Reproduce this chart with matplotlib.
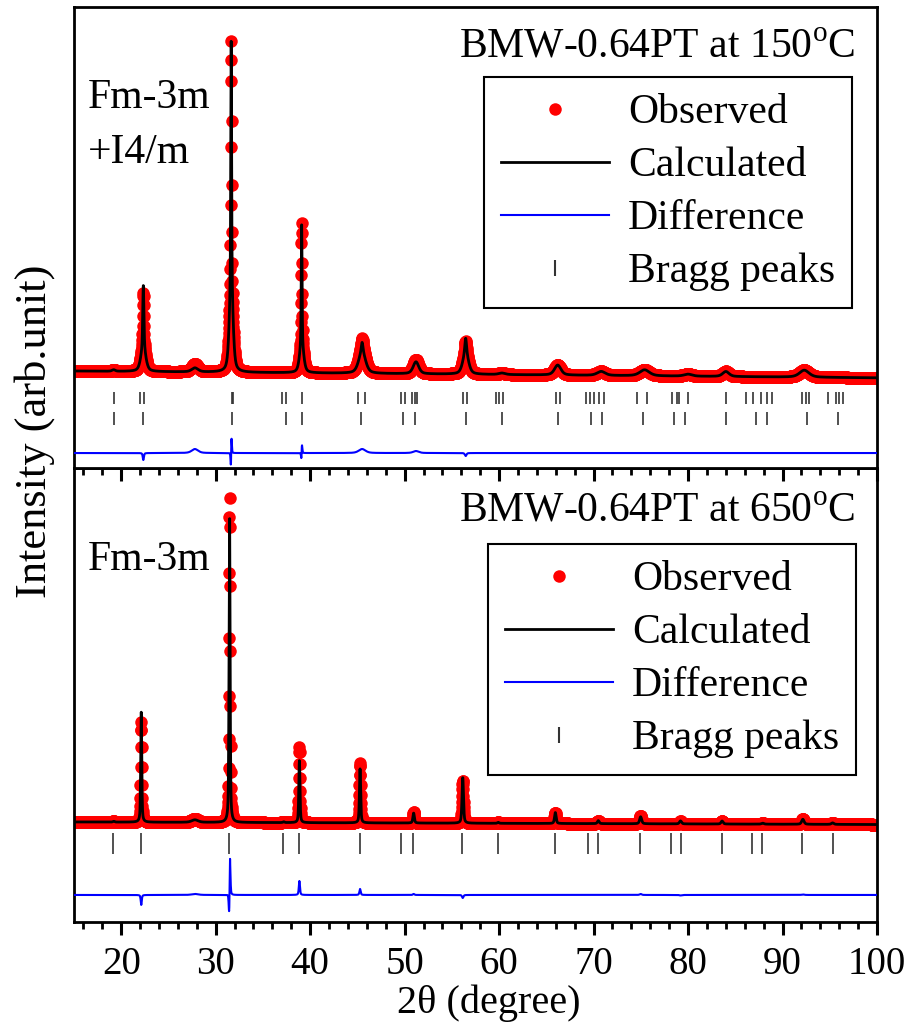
import numpy as np
import matplotlib
matplotlib.use("Agg")
import matplotlib.pyplot as plt
from matplotlib.lines import Line2D

plt.rcParams['font.family'] = ['Liberation Serif', 'DejaVu Serif']
plt.rcParams['mathtext.fontset'] = 'custom'
plt.rcParams['mathtext.rm'] = 'Liberation Serif'

# ---- 150 C pattern (Fm-3m + I4/m) : peak table ----
top_pos = [19.2, 22.34, 22.34, 27.8, 31.64, 31.64, 39.1, 39.1, 45.5, 45.5,
           51.2, 56.46, 56.46, 60.3, 66.2, 70.8, 75.4, 80.0, 84.0, 92.3]
top_calc = [1.5, 62, 24, 4, 245, 86, 120, 28, 22, 9,
            12, 22, 14, 1.5, 10, 4, 6, 2, 5, 7]
top_obs = [1.5, 55, 24, 8, 247, 86, 122, 28, 26, 9,
           14, 22, 11, 1.5, 10, 4, 6, 2, 5, 7]
top_fwhm = [0.4, 0.14, 0.6, 0.8, 0.1, 0.45, 0.1, 0.5, 0.85, 0.2,
            0.7, 0.7, 0.2, 0.8, 0.8, 1.0, 1.2, 1.0, 0.8, 1.2]
top_shift = [0, 0, 0, 0, 0.004, 0, 0.004, 0, 0, 0,
             0, 0, 0, 0, 0, 0, 0, 0, 0, 0]
top_bg = [0.0, -0.08]          # background: offset, slope per degree

# Bragg positions, I4/m (upper row) and Fm-3m (lower row)
top_bragg1 = [19.23, 21.99, 22.41, 31.69, 31.83, 37.05, 37.44, 39.10, 45.03, 45.80,
              49.61, 50.04, 50.75, 51.10, 51.31, 56.21, 56.57, 59.64, 60.02, 60.38,
              66.02, 66.44, 69.20, 69.62, 70.08, 70.61, 71.10, 74.56, 75.62, 78.33,
              78.80, 79.04, 80.03, 84.02, 86.14, 86.91, 87.72, 88.39, 88.86, 92.03,
              92.49, 92.84, 94.85, 95.66, 96.01, 96.37]
top_bragg2 = [19.23, 22.34, 31.69, 37.40, 39.10, 45.38, 49.86, 51.10, 56.46, 60.27,
              66.27, 69.73, 70.86, 75.26, 78.54, 79.67, 84.02, 87.20, 88.33, 92.56, 95.84]

# ---- 650 C pattern (Fm-3m) ----
bot_pos = [19.2, 22.12, 27.8, 31.47, 37.2, 38.86, 45.28, 50.95, 56.15, 59.9,
           65.95, 70.5, 74.98, 79.2, 83.6, 87.9, 92.15, 95.3]
bot_calc = [0.8, 110, 2.5, 310, 0.8, 62, 54, 10, 46, 1,
            11, 3, 7, 3, 3, 1, 5, 1.5]
bot_obs = [0.8, 100, 3.5, 325, 0.8, 76, 60, 11, 43, 1,
           11, 3, 8, 2.5, 3, 1, 5.5, 1.5]
bot_fwhm = [0.2, 0.13, 0.8, 0.13, 0.2, 0.14, 0.15, 0.18, 0.18, 0.2,
            0.2, 0.22, 0.25, 0.25, 0.25, 0.3, 0.3, 0.3]
bot_shift = [0, 0, 0, 0.008, 0, 0, 0, 0, 0, 0,
             0, 0, 0, 0, 0, 0, 0, 0]
bot_bg = [0.0, -0.03]

bot_bragg = [19.16, 22.09, 31.44, 37.16, 38.82, 45.27, 49.58, 50.92, 56.10, 59.91,
             65.92, 69.38, 70.50, 74.95, 78.20, 79.22, 83.56, 86.80, 87.86, 92.09, 95.31]

two_theta = np.arange(15, 100.001, 0.02)


def profile(x, pos, height, fwhm, shift, bg, eta=0.5):
    y = bg[0] + bg[1] * (x - 15)
    for p, h, w, s in zip(pos, height, fwhm, shift):
        dx = (x - p - s) / (w / 2)
        y = y + h * (eta / (1 + dx ** 2) + (1 - eta) * np.exp(-np.log(2) * dx ** 2))
    return y


def draw_panel(ax, pos, calc_h, obs_h, fwhm, shift, bg, bragg_rows, diff_off, title, phase):
    calc = profile(two_theta, pos, calc_h, fwhm, [0] * len(pos), bg)
    obs = profile(two_theta, pos, obs_h, fwhm, shift, bg)
    ax.plot(two_theta, obs, 'o', color='red', ms=9, mew=0, zorder=2)
    ax.plot(two_theta, calc, '-', color='black', lw=2, zorder=3)
    ax.plot(two_theta, obs - calc + diff_off, '-', color='blue', lw=1.5, zorder=3)
    for peaks, (y0, y1) in bragg_rows:
        ax.vlines(peaks, y0, y1, color='#333333', lw=1.2)

    ax.text(0.9726, title[1], title[0], transform=ax.transAxes, ha='right',
            va='baseline', fontsize=30)
    for txt, yb in phase:
        ax.text(0.0174, yb, txt, transform=ax.transAxes, ha='left',
                va='baseline', fontsize=30)

    handles = [Line2D([], [], ls='none', marker='o', color='red', ms=9, mew=0),
               Line2D([], [], color='black', lw=2),
               Line2D([], [], color='blue', lw=1.5),
               Line2D([], [], ls='none', marker='|', color='#333333', ms=12, mew=1.5)]
    labels = ['Observed', 'Calculated', 'Difference', 'Bragg peaks']
    return handles, labels


def add_legend(ax, handles, labels, anchor):
    leg = ax.legend(handles, labels, loc='upper left', bbox_to_anchor=anchor,
                    borderaxespad=0, fontsize=30, frameon=True, fancybox=False,
                    edgecolor='black', framealpha=1, handlelength=2.6,
                    handletextpad=0.45, borderpad=0.4, labelspacing=0.35)
    leg.get_frame().set_linewidth(1.5)


fig = plt.figure(figsize=(9.11, 10.30), dpi=100)
ax_bot = fig.add_axes([0.0812, 0.1049, 0.8815, 0.4407])
ax_top = fig.add_axes([0.0812, 0.5456, 0.8815, 0.4476])

h, l = draw_panel(ax_top, top_pos, top_calc, top_obs, top_fwhm, top_shift, top_bg,
                  [(top_bragg1, (-33, -21)), (top_bragg2, (-54, -41))], -82,
                  ('BMW-0.64PT at 150$^{\\mathrm{o}}$C', 0.8915),
                  [('Fm-3m', 0.781), ('+I4/m', 0.6616)])
add_legend(ax_top, h, l, (0.5106, 0.848))

h, l = draw_panel(ax_bot, bot_pos, bot_calc, bot_obs, bot_fwhm, bot_shift, bot_bg,
                  [(bot_bragg, (-32, -11))], -73,
                  ('BMW-0.64PT at 650$^{\\mathrm{o}}$C', 0.8817),
                  [('Fm-3m', 0.775)])
add_legend(ax_bot, h, l, (0.5156, 0.8326))

ax_top.set_ylim(-97, 364)
ax_bot.set_ylim(-100, 354)
for ax in (ax_top, ax_bot):
    ax.set_xlim(15, 100)
    ax.set_yticks([])
    ax.set_xticks(np.arange(20, 101, 10))
    ax.set_xticks(np.arange(16, 101, 2), minor=True)
    ax.tick_params(axis='x', which='major', direction='out', length=9, width=2.2,
                   labelsize=28, pad=8)
    ax.tick_params(axis='x', which='minor', direction='out', length=5, width=2)
    for sp in ax.spines.values():
        sp.set_linewidth(2)
ax_top.tick_params(axis='x', labelbottom=False)
ax_bot.patch.set_visible(False)

fig.text(35 / 911, 1 - 431 / 1030, 'Intensity (arb.unit)', rotation=90,
         ha='center', va='center', fontsize=32)
fig.text(489 / 911, 1 - 1003 / 1030, '2θ (degree)', ha='center', va='center',
         fontsize=29)

fig.savefig('out.png', dpi=100)
